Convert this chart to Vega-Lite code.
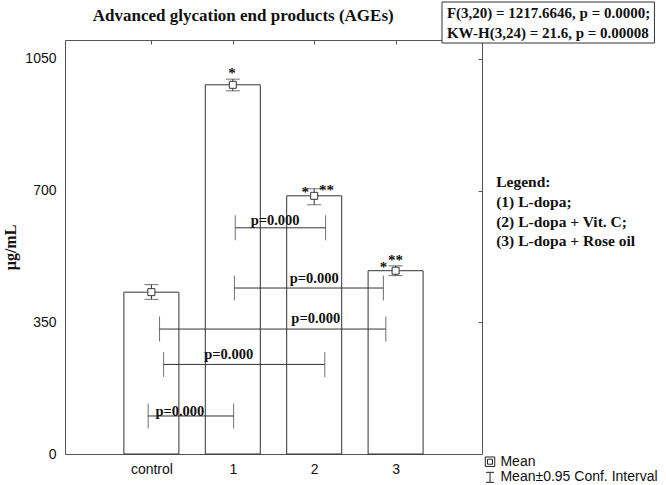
{
  "$schema": "https://vega.github.io/schema/vega-lite/v6.json",
  "width": 417,
  "height": 414,
  "autosize": {"type": "none"},
  "padding": {"left": 65, "top": 40, "right": 184, "bottom": 31},
  "background": "white",
  "datasets": {
    "groups": [
      {"pos": 1, "group": "control", "mean": 430, "lo": 411, "hi": 450},
      {"pos": 2, "group": "1", "mean": 981, "lo": 965, "hi": 996},
      {"pos": 3, "group": "2", "mean": 686, "lo": 662, "hi": 705},
      {"pos": 4, "group": "3", "mean": 487, "lo": 474, "hi": 500}
    ],
    "stars": [
      {"x": 1.99, "y": 999, "t": "*"},
      {"x": 2.89, "y": 683, "t": "*"},
      {"x": 3.15, "y": 688, "t": "**"},
      {"x": 3.85, "y": 484, "t": "*"},
      {"x": 4.0, "y": 502, "t": "**"}
    ],
    "brackets": [
      {"a": 2.03, "b": 3.14, "y": 601, "lx": 2.52, "ly": 608, "label": "p=0.000"},
      {"a": 2.02, "b": 3.85, "y": 441, "lx": 3.0, "ly": 455, "label": "p=0.000"},
      {"a": 1.10, "b": 3.88, "y": 332, "lx": 3.02, "ly": 348, "label": "p=0.000"},
      {"a": 1.15, "b": 3.13, "y": 238, "lx": 1.95, "ly": 253, "label": "p=0.000"},
      {"a": 0.96, "b": 2.01, "y": 101, "lx": 1.35, "ly": 102, "label": "p=0.000"}
    ],
    "titletext": [{"x": 2.128, "y": 1150, "t": "Advanced glycation end products (AGEs)"}],
    "statbox": [{"x1": 4.57, "x2": 7.18, "y1": 1092, "y2": 1201}],
    "stats": [
      {"x": 4.63, "y": 1172, "t": "F(3,20) = 1217.6646, p = 0.0000;"},
      {"x": 4.63, "y": 1119, "t": "KW-H(3,24) = 21.6, p = 0.00008"}
    ],
    "legendtext": [
      {"x": 5.236, "y": 723.5, "t": "Legend:"},
      {"x": 5.236, "y": 669.6, "t": "(1) L-dopa;"},
      {"x": 5.236, "y": 617.2, "t": "(2) L-dopa + Vit. C;"},
      {"x": 5.236, "y": 565.9, "t": "(3) L-dopa + Rose oil"}
    ],
    "key": [
      {"x": 5.16, "tx": 5.288, "y": -20.5, "t": "Mean", "sym": "mean"},
      {"x": 5.16, "tx": 5.288, "y": -62, "t": "Mean±0.95 Conf. Interval", "sym": "ci"}
    ]
  },
  "resolve": {"axis": {"x": "independent", "y": "independent"}},
  "layer": [
    {
      "data": {"name": "groups"},
      "mark": {"type": "bar", "orient": "vertical", "size": 55, "fill": "white", "stroke": "#333", "strokeWidth": 1},
      "encoding": {
        "x": {"field": "pos", "type": "quantitative", "scale": {"domain": [0, 5], "nice": false, "zero": false},
          "axis": {"orient": "bottom", "values": [1, 2, 3, 4], "labelExpr": "datum.value == 1 ? 'control' : '' + (datum.value - 1)", "ticks": false, "domainColor": "#555", "labelFont": "Liberation Sans", "labelFontSize": 14, "labelColor": "#111", "labelPadding": 8, "title": null, "grid": false, "zindex": 0}},
        "y": {"field": "mean", "type": "quantitative", "scale": {"domain": [0, 1100], "nice": false},
          "axis": {"orient": "left", "values": [0, 350, 700, 1050], "format": "d", "ticks": false, "domainColor": "#555", "labelFont": "Liberation Sans", "labelFontSize": 14, "labelColor": "#111", "labelPadding": 9, "title": "µg/mL", "titleFont": "Liberation Serif", "titleFontWeight": "bold", "titleFontSize": 16, "titleColor": "#111", "titlePadding": 6, "grid": false, "zindex": 0}}
      }
    },
    {
      "data": {"name": "brackets"},
      "mark": {"type": "rule", "stroke": "#333", "strokeWidth": 1},
      "encoding": {
        "x": {"field": "a", "type": "quantitative", "axis": {"orient": "top", "values": [1, 2, 3, 4], "labels": false, "tickSize": -4, "tickColor": "#555", "domainColor": "#555", "title": null, "grid": false, "zindex": 0}},
        "x2": {"field": "b"},
        "y": {"field": "y", "type": "quantitative", "axis": {"orient": "right", "values": [350, 700, 1050], "labels": false, "tickSize": -4, "tickColor": "#555", "domainColor": "#555", "title": null, "grid": false, "zindex": 0}}
      }
    },
    {
      "data": {"name": "brackets"},
      "mark": {"type": "tick", "orient": "vertical", "size": 25, "thickness": 1, "color": "#333"},
      "encoding": {
        "x": {"field": "a", "type": "quantitative", "axis": null},
        "y": {"field": "y", "type": "quantitative", "axis": null}
      }
    },
    {
      "data": {"name": "brackets"},
      "mark": {"type": "tick", "orient": "vertical", "size": 25, "thickness": 1, "color": "#333"},
      "encoding": {
        "x": {"field": "b", "type": "quantitative", "axis": null},
        "y": {"field": "y", "type": "quantitative", "axis": null}
      }
    },
    {
      "data": {"name": "brackets"},
      "mark": {"type": "text", "font": "Liberation Serif", "fontWeight": "bold", "fontSize": 14.5, "color": "#111", "align": "center", "baseline": "alphabetic"},
      "encoding": {
        "x": {"field": "lx", "type": "quantitative", "axis": null},
        "y": {"field": "ly", "type": "quantitative", "axis": null},
        "text": {"field": "label"}
      }
    },
    {
      "data": {"name": "groups"},
      "mark": {"type": "rule", "stroke": "#333", "strokeWidth": 1},
      "encoding": {
        "x": {"field": "pos", "type": "quantitative", "axis": null},
        "y": {"field": "lo", "type": "quantitative", "axis": null},
        "y2": {"field": "hi"}
      }
    },
    {
      "data": {"name": "groups"},
      "mark": {"type": "tick", "orient": "horizontal", "size": 14, "thickness": 1, "color": "#333"},
      "encoding": {
        "x": {"field": "pos", "type": "quantitative", "axis": null},
        "y": {"field": "lo", "type": "quantitative", "axis": null}
      }
    },
    {
      "data": {"name": "groups"},
      "mark": {"type": "tick", "orient": "horizontal", "size": 14, "thickness": 1, "color": "#333"},
      "encoding": {
        "x": {"field": "pos", "type": "quantitative", "axis": null},
        "y": {"field": "hi", "type": "quantitative", "axis": null}
      }
    },
    {
      "data": {"name": "groups"},
      "mark": {"type": "point", "shape": "square", "size": 49, "filled": true, "fill": "white", "stroke": "#333", "strokeWidth": 1, "opacity": 1},
      "encoding": {
        "x": {"field": "pos", "type": "quantitative", "axis": null},
        "y": {"field": "mean", "type": "quantitative", "axis": null}
      }
    },
    {
      "data": {"name": "stars"},
      "mark": {"type": "text", "font": "Liberation Serif", "fontWeight": "bold", "fontSize": 15, "color": "#111", "align": "center", "baseline": "alphabetic"},
      "encoding": {
        "x": {"field": "x", "type": "quantitative", "axis": null},
        "y": {"field": "y", "type": "quantitative", "axis": null},
        "text": {"field": "t"}
      }
    },
    {
      "data": {"name": "titletext"},
      "mark": {"type": "text", "font": "Liberation Serif", "fontWeight": "bold", "fontSize": 17, "color": "#111", "align": "center", "baseline": "alphabetic"},
      "encoding": {
        "x": {"field": "x", "type": "quantitative", "axis": null},
        "y": {"field": "y", "type": "quantitative", "axis": null},
        "text": {"field": "t"}
      }
    },
    {
      "data": {"name": "statbox"},
      "mark": {"type": "rect", "fill": "white", "stroke": "#333", "strokeWidth": 1},
      "encoding": {
        "x": {"field": "x1", "type": "quantitative", "axis": null},
        "x2": {"field": "x2"},
        "y": {"field": "y1", "type": "quantitative", "axis": null},
        "y2": {"field": "y2"}
      }
    },
    {
      "data": {"name": "stats"},
      "mark": {"type": "text", "font": "Liberation Serif", "fontWeight": "bold", "fontSize": 15, "color": "#111", "align": "left", "baseline": "middle"},
      "encoding": {
        "x": {"field": "x", "type": "quantitative", "axis": null},
        "y": {"field": "y", "type": "quantitative", "axis": null},
        "text": {"field": "t"}
      }
    },
    {
      "data": {"name": "legendtext"},
      "mark": {"type": "text", "font": "Liberation Serif", "fontWeight": "bold", "fontSize": 15.5, "color": "#111", "align": "left", "baseline": "middle"},
      "encoding": {
        "x": {"field": "x", "type": "quantitative", "axis": null},
        "y": {"field": "y", "type": "quantitative", "axis": null},
        "text": {"field": "t"}
      }
    },
    {
      "data": {"name": "key"},
      "transform": [{"filter": "datum.sym == 'mean'"}],
      "mark": {"type": "point", "shape": "square", "size": 90, "filled": false, "stroke": "#222", "strokeWidth": 1, "opacity": 1},
      "encoding": {
        "x": {"field": "x", "type": "quantitative", "axis": null},
        "y": {"field": "y", "type": "quantitative", "axis": null}
      }
    },
    {
      "data": {"name": "key"},
      "transform": [{"filter": "datum.sym == 'mean'"}],
      "mark": {"type": "point", "shape": "square", "size": 25, "filled": false, "stroke": "#222", "strokeWidth": 1, "opacity": 1},
      "encoding": {
        "x": {"field": "x", "type": "quantitative", "axis": null},
        "y": {"field": "y", "type": "quantitative", "axis": null}
      }
    },
    {
      "data": {"name": "key"},
      "transform": [{"filter": "datum.sym == 'ci'"}],
      "mark": {"type": "point", "shape": "M0,-1L0,1M-0.8,-1L0.8,-1M-0.8,1L0.8,1", "size": 100, "filled": false, "stroke": "#222", "strokeWidth": 1, "opacity": 1},
      "encoding": {
        "x": {"field": "x", "type": "quantitative", "axis": null},
        "y": {"field": "y", "type": "quantitative", "axis": null}
      }
    },
    {
      "data": {"name": "key"},
      "mark": {"type": "text", "font": "Liberation Sans", "fontSize": 14, "color": "#111", "align": "left", "baseline": "middle"},
      "encoding": {
        "x": {"field": "tx", "type": "quantitative", "axis": null},
        "y": {"field": "y", "type": "quantitative", "axis": null},
        "text": {"field": "t"}
      }
    }
  ],
  "config": {"view": {"stroke": null}, "axis": {"grid": false}}
}
